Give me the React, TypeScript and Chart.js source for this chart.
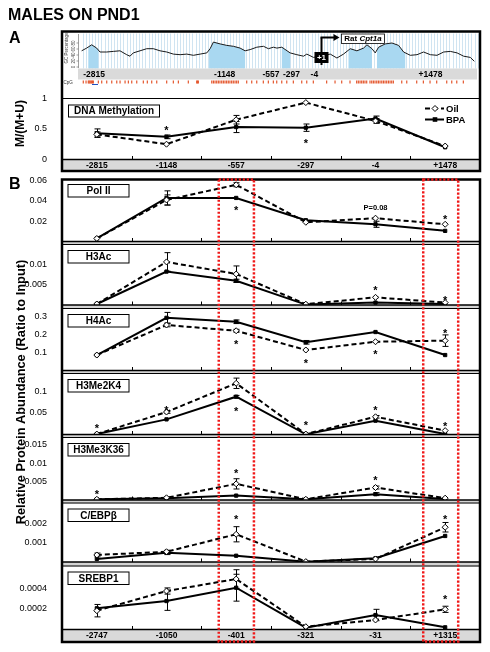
import React, { useEffect, useRef } from 'react';
import { Chart, registerables } from 'chart.js';

Chart.register(...registerables);

const W = 490;
const H = 652;
const LEFT = 62;
const RIGHT = 480;
const FONT = "'Liberation Sans', Arial, Helvetica, sans-serif";

// ---------------- Top track: GC percentage / CpG islands ----------------
const trackPos = [-2973, -2909, -2845, -2781, -2739, -2653, -2569, -2484, -2398, -2356, -2314, -2228, -2143, -2058, -1973, -1887, -1803, -1717, -1632, -1547, -1462, -1376, -1334, -1292, -1206, -1121, -1036, -951, -887, -823, -738, -653, -590, -526, -482, -419, -313, -227, -142, -100, -15, 71, 199, 284, 368, 454, 539, 624, 667, 731, 773, 816, 901, 986, 1071, 1135, 1220, 1306, 1390, 1476, 1561, 1646, 1731, 1817, 1901, 1986, 2037];
const trackGC = [54, 63, 74, 63, 50, 50, 52, 54, 41, 36, 47, 54, 61, 61, 54, 50, 43, 41, 43, 39, 43, 47, 61, 83, 77, 72, 69, 63, 54, 58, 66, 69, 61, 66, 63, 66, 47, 41, 36, 43, 32, 36, 43, 30, 43, 61, 54, 63, 74, 61, 47, 66, 77, 80, 72, 50, 39, 41, 50, 41, 39, 50, 52, 47, 36, 32, 19];
const islandStarts = [-2888, -1347, -419, 432, 795];
const islandEnds = [-2761, -887, -313, 731, 1156];
const cpgSites = [-2952, -2917, -2888, -2877, -2866, -2855, -2845, -2834, -2824, -2760, -2717, -2653, -2589, -2525, -2483, -2419, -2377, -2334, -2270, -2186, -2135, -2079, -2015, -1888, -1803, -1739, -1612, -1505, -1495, -1484, -1313, -1292, -1271, -1250, -1229, -1208, -1186, -1165, -1144, -1123, -1102, -1081, -1059, -1038, -1016, -995, -974, -867, -803, -739, -655, -591, -527, -484, -420, -356, -272, -165, -101, -17, 153, 260, 345, 451, 536, 557, 579, 600, 621, 642, 664, 706, 728, 749, 770, 792, 813, 834, 856, 877, 898, 919, 941, 962, 983, 1004, 1111, 1175, 1302, 1387, 1472, 1557, 1685, 1749, 1813, 1897];
const trackMarks = [-2815, -1148, -557, -297, -4, 1478];
const trackMarkLabels = ['-2815', '-1148', '-557', '-297', '-4', '+1478'];
const gcTicks = [0, 20, 40, 60, 80];
const tssPos = 75;

// ---------------- Panel A: DNA methylation ----------------
const methCategories = ['-2815', '-1148', '-557', '-297', '-4', '+1478'];
const methOil = [0.41, 0.25, 0.65, 0.93, 0.63, 0.22];
const methOilErr = [0.04, 0.02, 0.07, 0.02, 0.04, 0.02];
const methBpa = [0.43, 0.37, 0.53, 0.52, 0.67, 0.2];
const methBpaErr = [0.07, 0.03, 0.09, 0.06, 0.04, 0.02];
const methTicks = [0, 0.5, 1];
const methStars = [[1, 0.51], [3, 0.3]];

// ---------------- Panel B: ChIP ----------------
const chipCategories = ['-2747', '-1050', '-401', '-321', '-31', '+1315'];
const highlightCols = [2, 5];

const polIIOil = [0.003, 0.041, 0.056, 0.019, 0.023, 0.017];
const polIIOilErr = [0.0005, 0.005, 0.002, 0.001, 0.001, 0.001];
const polIIBpa = [0.003, 0.043, 0.043, 0.021, 0.017, 0.0105];
const polIIBpaErr = [0.0005, 0.007, 0.001, 0.001, 0.003, 0.0008];
const polIITicks = [0.02, 0.04, 0.06];
const polIIStars = [[2, 0.0328], [5, 0.0245]];

const h3acOil = [0.00025, 0.0107, 0.0077, 0.0002, 0.0019, 0.0006];
const h3acOilErr = [0.0001, 0.0023, 0.002, 0.0001, 0.0003, 0.0002];
const h3acBpa = [0.00025, 0.0083, 0.006, 0.0001, 0.0006, 0.00025];
const h3acBpaErr = [0.0001, 0.0003, 0.0004, 0.0001, 0.0002, 0.0001];
const h3acTicks = [0.005, 0.01];
const h3acStars = [[4, 0.0042], [5, 0.0017]];

const h4acOil = [0.086, 0.253, 0.221, 0.114, 0.16, 0.166];
const h4acOilErr = [0.003, 0.01, 0.008, 0.006, 0.005, 0.032];
const h4acBpa = [0.086, 0.293, 0.271, 0.157, 0.214, 0.086];
const h4acBpaErr = [0.003, 0.03, 0.01, 0.01, 0.005, 0.004];
const h4acTicks = [0.1, 0.2, 0.3];
const h4acStars = [[2, 0.16], [3, 0.053], [4, 0.105], [5, 0.222]];

const h3me2Oil = [0.001, 0.052, 0.1185, 0.001, 0.041, 0.009];
const h3me2OilErr = [0.001, 0.003, 0.012, 0.001, 0.003, 0.002];
const h3me2Bpa = [0.001, 0.035, 0.0875, 0.0005, 0.032, 0.001];
const h3me2BpaErr = [0.001, 0.002, 0.003, 0.001, 0.002, 0.001];
const h3me2Ticks = [0.05, 0.1];
const h3me2Stars = [[0, 0.0197], [1, 0.062], [2, 0.059], [3, 0.027], [4, 0.0606], [5, 0.0243]];

const h3me3Oil = [0.0002, 0.0006, 0.0044, 0.0002, 0.0034, 0.0005];
const h3me3OilErr = [0.0001, 0.0001, 0.0014, 0.0001, 0.0004, 0.0001];
const h3me3Bpa = [0.0002, 0.0005, 0.0012, 0.0002, 0.0016, 0.0003];
const h3me3BpaErr = [0.0001, 0.0001, 0.0002, 0.0001, 0.0004, 0.0001];
const h3me3Ticks = [0.005, 0.01, 0.015];
const h3me3Stars = [[0, 0.0021], [2, 0.0078], [4, 0.0059]];

const cebpOil = [0.00037, 0.00054, 0.00146, 0.00002, 0.00016, 0.00183];
const cebpOilErr = [0.0001, 0.00008, 0.0004, 0.00001, 0.00003, 0.00025];
const cebpBpa = [0.00016, 0.00049, 0.00033, 0.00001, 0.0002, 0.00137];
const cebpBpaErr = [0.00003, 0.0001, 0.00003, 0.00001, 0.00003, 0.00004];
const cebpTicks = [0.001, 0.002];
const cebpStars = [[2, 0.00238], [5, 0.00238]];

const srebpOil = [0.000182, 0.000372, 0.000488, 0.000027, 0.000092, 0.000195];
const srebpOilErr = [0.00006, 0.00003, 0.00009, 0.00001, 0.00001, 0.00003];
const srebpBpa = [0.000205, 0.000275, 0.000404, 0.000017, 0.00014, 0.000021];
const srebpBpaErr = [0.00001, 0.00009, 0.00013, 0.00001, 0.000055, 0.00001];
const srebpTicks = [0.0002, 0.0004];
const srebpStars = [[5, 0.00031]];

type Panel = {
  name: string;
  top: number;
  bottom: number;
  max: number;
  ticks: number[];
  oil: number[];
  oilErr: number[];
  bpa: number[];
  bpaErr: number[];
  stars: number[][];
  notes?: { i: number; v: number; text: string }[];
};

const panels: Panel[] = [
  { name: 'Pol II', top: 179, bottom: 241.5, max: 0.0617, ticks: polIITicks, oil: polIIOil, oilErr: polIIOilErr, bpa: polIIBpa, bpaErr: polIIBpaErr, stars: polIIStars, notes: [{ i: 4, v: 0.0328, text: 'P=0.08' }] },
  { name: 'H3Ac', top: 245, bottom: 305, max: 0.0149, ticks: h3acTicks, oil: h3acOil, oilErr: h3acOilErr, bpa: h3acBpa, bpaErr: h3acBpaErr, stars: h3acStars },
  { name: 'H4Ac', top: 309, bottom: 370.5, max: 0.342, ticks: h4acTicks, oil: h4acOil, oilErr: h4acOilErr, bpa: h4acBpa, bpaErr: h4acBpaErr, stars: h4acStars },
  { name: 'H3Me2K4', top: 374, bottom: 434.5, max: 0.14, ticks: h3me2Ticks, oil: h3me2Oil, oilErr: h3me2OilErr, bpa: h3me2Bpa, bpaErr: h3me2BpaErr, stars: h3me2Stars },
  { name: 'H3Me3K36', top: 438, bottom: 500, max: 0.0169, ticks: h3me3Ticks, oil: h3me3Oil, oilErr: h3me3OilErr, bpa: h3me3Bpa, bpaErr: h3me3BpaErr, stars: h3me3Stars },
  { name: 'C/EBPβ', top: 503.5, bottom: 562, max: 0.00308, ticks: cebpTicks, oil: cebpOil, oilErr: cebpOilErr, bpa: cebpBpa, bpaErr: cebpBpaErr, stars: cebpStars },
  { name: 'SREBP1', top: 566.5, bottom: 629.5, max: 0.000609, ticks: srebpTicks, oil: srebpOil, oilErr: srebpOilErr, bpa: srebpBpa, bpaErr: srebpBpaErr, stars: srebpStars },
];

// ---------------- helpers ----------------
type TxtOpt = { size?: number; bold?: boolean; italic?: boolean; align?: CanvasTextAlign; baseline?: CanvasTextBaseline; color?: string };
function drawText(ctx: CanvasRenderingContext2D, s: string, x: number, y: number, o: TxtOpt = {}) {
  const { size = 9, bold = false, italic = false, align = 'center', baseline = 'middle', color = '#000' } = o;
  ctx.save();
  ctx.font = `${italic ? 'italic ' : ''}${bold ? 'bold ' : ''}${size}px ${FONT}`;
  ctx.textAlign = align;
  ctx.textBaseline = baseline;
  ctx.fillStyle = color;
  ctx.fillText(s, x, y);
  ctx.restore();
}
function drawRotated(ctx: CanvasRenderingContext2D, s: string, x: number, y: number, size: number, bold: boolean, color = '#000') {
  ctx.save();
  ctx.translate(x, y);
  ctx.rotate(-Math.PI / 2);
  ctx.font = `${bold ? 'bold ' : ''}${size}px ${FONT}`;
  ctx.textAlign = 'center';
  ctx.textBaseline = 'middle';
  ctx.fillStyle = color;
  ctx.fillText(s, 0, 0);
  ctx.restore();
}
function line(ctx: CanvasRenderingContext2D, x1: number, y1: number, x2: number, y2: number, lw = 1, color = '#000') {
  ctx.save();
  ctx.strokeStyle = color;
  ctx.lineWidth = lw;
  ctx.beginPath();
  ctx.moveTo(x1, y1);
  ctx.lineTo(x2, y2);
  ctx.stroke();
  ctx.restore();
}
function drawStar(ctx: CanvasRenderingContext2D, x: number, y: number) {
  drawText(ctx, '*', x, y + 6, { size: 11, bold: true, baseline: 'alphabetic' });
}
function drawErrorBars(chart: any, sets: [number[], number[]][]) {
  const { ctx } = chart;
  const xs = chart.scales.x;
  const ys = chart.scales.y;
  ctx.save();
  ctx.strokeStyle = '#000';
  ctx.lineWidth = 1;
  for (const [vals, errs] of sets) {
    vals.forEach((v, i) => {
      const e = errs[i];
      if (!e) return;
      const px = Math.round(xs.getPixelForValue(i)) + 0.5;
      const top = ys.getPixelForValue(v + e);
      const bot = ys.getPixelForValue(Math.max(0, v - e));
      if (Math.abs(bot - top) < 2.5) return;
      ctx.beginPath();
      ctx.moveTo(px, top);
      ctx.lineTo(px, bot);
      ctx.moveTo(px - 3, top);
      ctx.lineTo(px + 3, top);
      ctx.moveTo(px - 3, bot);
      ctx.lineTo(px + 3, bot);
      ctx.stroke();
    });
  }
  ctx.restore();
}
function drawInnerTicks(chart: any, n: number) {
  const xs = chart.scales.x;
  const b = chart.chartArea.bottom;
  for (let i = 0; i < n - 1; i++) {
    const px = Math.round((xs.getPixelForValue(i) + xs.getPixelForValue(i + 1)) / 2) + 0.5;
    line(chart.ctx, px, b, px, b - 3.5, 1);
  }
}
function drawLabelBox(ctx: CanvasRenderingContext2D, s: string, x: number, y: number, w: number, h: number, size = 10) {
  ctx.save();
  ctx.fillStyle = '#fff';
  ctx.fillRect(x, y, w, h);
  ctx.strokeStyle = '#000';
  ctx.lineWidth = 1;
  ctx.strokeRect(x + 0.5, y + 0.5, w, h);
  ctx.restore();
  drawText(ctx, s, x + w / 2 + 0.5, y + h / 2 + 1, { size, bold: true });
}

function seriesDatasets(oil: number[], bpa: number[]) {
  return [
    { label: 'Oil', data: oil, borderColor: '#000', borderWidth: 2, borderDash: [5, 3], pointStyle: 'rectRot', pointRadius: 3, pointBackgroundColor: '#fff', pointBorderColor: '#000', pointBorderWidth: 1, clip: false, tension: 0 },
    { label: 'BPA', data: bpa, borderColor: '#000', borderWidth: 2, pointStyle: 'rect', pointRadius: 2.3, pointBackgroundColor: '#000', pointBorderColor: '#000', pointBorderWidth: 1, clip: false, tension: 0 },
  ];
}

function catOptions(top: number, bottom: number, max: number, ticks: number[]) {
  const AXW = 58;
  return {
    responsive: false,
    animation: false,
    events: [],
    layout: { padding: { left: LEFT - AXW, right: W - RIGHT, top, bottom: H - bottom } },
    plugins: { legend: { display: false }, tooltip: { enabled: false } },
    scales: {
      x: { type: 'category', offset: true, display: false },
      y: {
        type: 'linear',
        min: 0,
        max,
        grid: { display: false },
        border: { display: false },
        afterFit: (s: any) => { s.width = AXW; },
        afterBuildTicks: (s: any) => { s.ticks = ticks.map((v) => ({ value: v })); },
        ticks: { padding: 7, color: '#000', font: { family: FONT, size: 9 }, callback: (v: any) => String(v) },
      },
    },
  };
}

// ---------------- Track chart ----------------
function trackConfig(): any {
  const plugin = {
    id: 'trackDeco',
    beforeDatasetsDraw(chart: any) {
      const { ctx } = chart;
      const xs = chart.scales.x;
      const ys = chart.scales.y;
      ctx.save();
      ctx.strokeStyle = 'rgba(150,195,225,0.45)';
      ctx.lineWidth = 1;
      for (let g = Math.ceil(xs.min / 40) * 40; g <= xs.max; g += 40) {
        const px = Math.round(xs.getPixelForValue(g)) + 0.5;
        ctx.beginPath();
        ctx.moveTo(px, 33.5);
        ctx.lineTo(px, 68.5);
        ctx.stroke();
      }
      ctx.restore();
      const pts = chart.getDatasetMeta(0).data;
      const base = ys.getPixelForValue(0) + 1.5;
      islandStarts.forEach((s, k) => {
        const x0 = xs.getPixelForValue(s);
        const x1 = xs.getPixelForValue(islandEnds[k]);
        ctx.save();
        ctx.beginPath();
        ctx.rect(x0, 30, x1 - x0, 40);
        ctx.clip();
        ctx.beginPath();
        ctx.moveTo(pts[0].x, base);
        pts.forEach((p: any) => ctx.lineTo(p.x, p.y));
        ctx.lineTo(pts[pts.length - 1].x, base);
        ctx.closePath();
        ctx.fillStyle = '#a9d8f1';
        ctx.fill();
        ctx.restore();
      });
    },
    afterDraw(chart: any) {
      const { ctx, chartArea: a } = chart;
      const xs = chart.scales.x;
      const ys = chart.scales.y;
      ctx.save();
      ctx.fillStyle = '#dadada';
      ctx.fillRect(78, 68.5, 399, 11);
      ctx.restore();
      trackMarks.forEach((m, i) => drawText(ctx, trackMarkLabels[i], xs.getPixelForValue(m), 74.5, { size: 8.5, bold: true }));
      drawText(ctx, 'CpG', 63.5, 82.5, { size: 4.5, align: 'left', color: '#333' });
      ctx.save();
      ctx.strokeStyle = '#e4572e';
      ctx.lineWidth = 1.2;
      cpgSites.forEach((c) => {
        const px = xs.getPixelForValue(c);
        ctx.beginPath();
        ctx.moveTo(px, 80.5);
        ctx.lineTo(px, 83.5);
        ctx.stroke();
      });
      ctx.restore();
      line(ctx, 92, 84.5, 98, 84.5, 1, '#2050c0');
      const axX = a.left - 1.5;
      line(ctx, axX, 34, axX, 68, 0.7, '#777');
      gcTicks.forEach((v) => {
        const py = ys.getPixelForValue(v);
        line(ctx, axX - 2, py, axX, py, 0.7, '#777');
        drawRotated(ctx, String(v), axX - 5, py, 4.5, false, '#444');
      });
      drawRotated(ctx, 'GC Percentage', 66.5, 48, 4.5, false, '#444');
      const tx = Math.round(xs.getPixelForValue(tssPos)) + 0.5;
      line(ctx, tx, 65, tx, 37.5, 2);
      line(ctx, tx - 1, 37.5, tx + 13, 37.5, 2);
      ctx.save();
      ctx.fillStyle = '#000';
      ctx.beginPath();
      ctx.moveTo(tx + 12, 34);
      ctx.lineTo(tx + 18, 37.5);
      ctx.lineTo(tx + 12, 41);
      ctx.closePath();
      ctx.fill();
      ctx.fillRect(tx - 7, 52, 14, 11);
      ctx.restore();
      drawText(ctx, '+1', tx, 57.8, { size: 8, bold: true, color: '#fff' });
      const bx = tx + 20;
      ctx.save();
      ctx.fillStyle = '#fff';
      ctx.fillRect(bx, 34, 43, 9.5);
      ctx.strokeStyle = '#000';
      ctx.lineWidth = 0.8;
      ctx.strokeRect(bx, 34, 43, 9.5);
      ctx.font = `bold 8px ${FONT}`;
      const w1 = ctx.measureText('Rat ').width;
      ctx.font = `italic bold 8px ${FONT}`;
      const w2 = ctx.measureText('Cpt1a').width;
      ctx.restore();
      const sx = bx + 21.5 - (w1 + w2) / 2;
      drawText(ctx, 'Rat ', sx, 39, { size: 8, bold: true, align: 'left' });
      drawText(ctx, 'Cpt1a', sx + w1, 39, { size: 8, bold: true, italic: true, align: 'left' });
    },
  };
  return {
    type: 'line',
    data: {
      datasets: [
        { data: trackPos.map((p, i) => ({ x: p, y: trackGC[i] })), borderColor: '#1a1a1a', borderWidth: 1, pointRadius: 0, clip: false, tension: 0 },
      ],
    },
    options: {
      responsive: false,
      animation: false,
      events: [],
      layout: { padding: { left: 80, right: W - 478, top: 37, bottom: H - 67 } },
      plugins: { legend: { display: false }, tooltip: { enabled: false } },
      scales: {
        x: { type: 'linear', min: -2994, max: 2084, display: false },
        y: { type: 'linear', min: 0, max: 100, display: false },
      },
    },
    plugins: [plugin],
  };
}

// ---------------- Methylation chart ----------------
function methConfig(): any {
  const plugin = {
    id: 'methDeco',
    beforeDatasetsDraw(chart: any) {
      drawErrorBars(chart, [[methOil, methOilErr], [methBpa, methBpaErr]]);
    },
    afterDraw(chart: any) {
      const { ctx, chartArea: a } = chart;
      const xs = chart.scales.x;
      const ys = chart.scales.y;
      line(ctx, LEFT, Math.round(a.top) + 0.5, RIGHT, Math.round(a.top) + 0.5, 1);
      ctx.save();
      ctx.fillStyle = '#d9d9d9';
      ctx.fillRect(LEFT, a.bottom, RIGHT - LEFT, 171 - a.bottom);
      ctx.restore();
      line(ctx, LEFT, a.bottom, RIGHT, a.bottom, 1.5);
      methCategories.forEach((c, i) => drawText(ctx, c, xs.getPixelForValue(i), 165.8, { size: 8.5, bold: true }));
      drawInnerTicks(chart, methCategories.length);
      drawLabelBox(ctx, 'DNA Methylation', 68, 104.5, 91, 12);
      methStars.forEach(([i, v]) => drawStar(ctx, xs.getPixelForValue(i), ys.getPixelForValue(v)));
      const lx0 = 425;
      const lx1 = 444;
      ctx.save();
      ctx.strokeStyle = '#000';
      ctx.lineWidth = 2;
      ctx.setLineDash([5, 3]);
      ctx.beginPath();
      ctx.moveTo(lx0, 108.5);
      ctx.lineTo(lx1, 108.5);
      ctx.stroke();
      ctx.setLineDash([]);
      ctx.beginPath();
      ctx.moveTo(lx0, 119.5);
      ctx.lineTo(lx1, 119.5);
      ctx.stroke();
      ctx.fillStyle = '#fff';
      ctx.lineWidth = 1;
      ctx.beginPath();
      ctx.moveTo(435, 105.5);
      ctx.lineTo(438, 108.5);
      ctx.lineTo(435, 111.5);
      ctx.lineTo(432, 108.5);
      ctx.closePath();
      ctx.fill();
      ctx.stroke();
      ctx.fillStyle = '#000';
      ctx.fillRect(432.7, 117.2, 4.6, 4.6);
      ctx.restore();
      drawText(ctx, 'Oil', 446, 109, { size: 9.5, bold: true, align: 'left' });
      drawText(ctx, 'BPA', 446, 120, { size: 9.5, bold: true, align: 'left' });
      ctx.save();
      ctx.strokeStyle = '#000';
      ctx.lineWidth = 2.5;
      ctx.strokeRect(LEFT, 31.5, RIGHT - LEFT, 139.5);
      ctx.restore();
      drawText(ctx, 'MALES ON PND1', 8, 15.5, { size: 16, bold: true, align: 'left' });
      drawText(ctx, 'A', 9, 38.5, { size: 16, bold: true, align: 'left' });
      drawRotated(ctx, 'M/(M+U)', 21, 123.5, 12, true);
    },
  };
  return {
    type: 'line',
    data: { labels: methCategories, datasets: seriesDatasets(methOil, methBpa) },
    options: catOptions(98.3, 159.5, 1, methTicks),
    plugins: [plugin],
  };
}

// ---------------- ChIP panels ----------------
function panelConfig(p: Panel, idx: number, isLast: boolean): any {
  const plugin = {
    id: 'chipDeco' + idx,
    beforeDatasetsDraw(chart: any) {
      drawErrorBars(chart, [[p.oil, p.oilErr], [p.bpa, p.bpaErr]]);
    },
    afterDraw(chart: any) {
      const { ctx, chartArea: a } = chart;
      const xs = chart.scales.x;
      const ys = chart.scales.y;
      const catW = xs.getPixelForValue(1) - xs.getPixelForValue(0);
      if (!isLast) {
        const next = panels[idx + 1].top;
        ctx.save();
        ctx.fillStyle = '#d4d4d4';
        ctx.fillRect(LEFT, a.bottom, RIGHT - LEFT, next - a.bottom);
        ctx.restore();
        line(ctx, LEFT, a.bottom, RIGHT, a.bottom, 1.5);
        line(ctx, LEFT, next - 0.5, RIGHT, next - 0.5, 1);
      } else {
        ctx.save();
        ctx.fillStyle = '#d9d9d9';
        ctx.fillRect(LEFT, a.bottom, RIGHT - LEFT, 641 - a.bottom);
        ctx.restore();
        line(ctx, LEFT, a.bottom, RIGHT, a.bottom, 1.5);
        chipCategories.forEach((c, i) => drawText(ctx, c, xs.getPixelForValue(i), 636, { size: 8.5, bold: true }));
      }
      drawInnerTicks(chart, chipCategories.length);
      drawLabelBox(ctx, p.name, 67.5, a.top + 5, 61, 12.5);
      p.stars.forEach(([i, v]) => drawStar(ctx, xs.getPixelForValue(i), ys.getPixelForValue(v)));
      (p.notes || []).forEach((n) => drawText(ctx, n.text, xs.getPixelForValue(n.i), ys.getPixelForValue(n.v), { size: 7.5, bold: true }));
      if (isLast) {
        const top = panels[0].top;
        ctx.save();
        ctx.strokeStyle = '#000';
        ctx.lineWidth = 2.5;
        ctx.strokeRect(LEFT, top + 0.5, RIGHT - LEFT, 641.5 - top);
        ctx.restore();
        const offs = [[-0.25, 0.255], [-0.315, 0.187]];
        ctx.save();
        ctx.strokeStyle = '#f01818';
        ctx.lineWidth = 2.5;
        ctx.setLineDash([2.2, 1.8]);
        highlightCols.forEach((c, k) => {
          const cx = xs.getPixelForValue(c);
          const x0 = cx + offs[k][0] * catW;
          const x1 = cx + offs[k][1] * catW;
          ctx.strokeRect(x0, top + 0.5, x1 - x0, 641 - top);
        });
        ctx.restore();
        drawText(ctx, 'B', 9, 184.5, { size: 16, bold: true, align: 'left' });
        drawRotated(ctx, 'Relative Protein Abundance (Ratio to Input)', 21, 392, 12.8, true);
      }
    },
  };
  return {
    type: 'line',
    data: { labels: chipCategories, datasets: seriesDatasets(p.oil, p.bpa) },
    options: catOptions(p.top, p.bottom, p.max, p.ticks),
    plugins: [plugin],
  };
}

export default function App() {
  const refs = useRef<(HTMLCanvasElement | null)[]>([]);
  const n = 2 + panels.length;
  useEffect(() => {
    const c = refs.current;
    const charts: Chart[] = [];
    charts.push(new Chart(c[0] as HTMLCanvasElement, trackConfig()));
    charts.push(new Chart(c[1] as HTMLCanvasElement, methConfig()));
    panels.forEach((p, i) => {
      charts.push(new Chart(c[2 + i] as HTMLCanvasElement, panelConfig(p, i, i === panels.length - 1)));
    });
    return () => charts.forEach((ch) => ch.destroy());
  }, []);
  return (
    <div style={{ position: 'absolute', left: 0, top: 0, width: W, height: H, background: '#fff', overflow: 'hidden' }}>
      {Array.from({ length: n }, (_, i) => (
        <canvas
          key={i}
          ref={(el) => { refs.current[i] = el; }}
          width={W}
          height={H}
          style={{ position: 'absolute', left: 0, top: 0, width: W, height: H }}
        />
      ))}
    </div>
  );
}
